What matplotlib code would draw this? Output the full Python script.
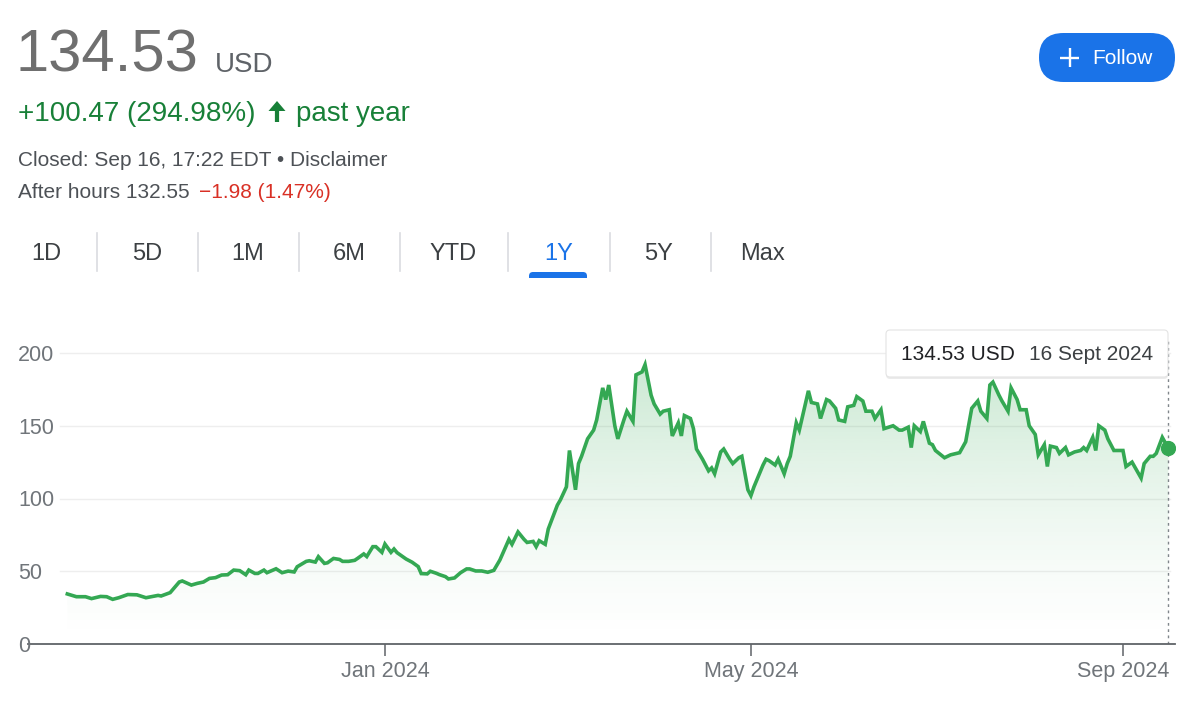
import numpy as np
import pandas as pd
import matplotlib
matplotlib.use("Agg")
import matplotlib.pyplot as plt
from matplotlib.patches import FancyBboxPatch, FancyArrow, Rectangle

plt.rcParams['font.family'] = ['Liberation Sans', 'DejaVu Sans']

# ---- data (closing price, USD) ----
dates = [
    "2023-09-18", "2023-09-21", "2023-09-24", "2023-09-26", "2023-09-29", "2023-10-01", "2023-10-03",
    "2023-10-05", "2023-10-08", "2023-10-11", "2023-10-14", "2023-10-18", "2023-10-19", "2023-10-22",
    "2023-10-25", "2023-10-26", "2023-10-29", "2023-10-31", "2023-11-02", "2023-11-04", "2023-11-06",
    "2023-11-08", "2023-11-10", "2023-11-12", "2023-11-14", "2023-11-16", "2023-11-17", "2023-11-19",
    "2023-11-20", "2023-11-22", "2023-11-23", "2023-11-26", "2023-11-28", "2023-11-30", "2023-12-02",
    "2023-12-03", "2023-12-06", "2023-12-07", "2023-12-09", "2023-12-10", "2023-12-12", "2023-12-13",
    "2023-12-15", "2023-12-17", "2023-12-18", "2023-12-20", "2023-12-22", "2023-12-23", "2023-12-25",
    "2023-12-26", "2023-12-28", "2023-12-29", "2023-12-31", "2024-01-01", "2024-01-03", "2024-01-04",
    "2024-01-05", "2024-01-08", "2024-01-10", "2024-01-12", "2024-01-13", "2024-01-15", "2024-01-16",
    "2024-01-18", "2024-01-19", "2024-01-21", "2024-01-22", "2024-01-24", "2024-01-26", "2024-01-28",
    "2024-01-29", "2024-01-31", "2024-02-02", "2024-02-04", "2024-02-06", "2024-02-08", "2024-02-11",
    "2024-02-12", "2024-02-14", "2024-02-16", "2024-02-17", "2024-02-19", "2024-02-20", "2024-02-21",
    "2024-02-23", "2024-02-24", "2024-02-26", "2024-02-27", "2024-02-28", "2024-03-01", "2024-03-02",
    "2024-03-04", "2024-03-05", "2024-03-06", "2024-03-08", "2024-03-10", "2024-03-11", "2024-03-13",
    "2024-03-14", "2024-03-15", "2024-03-17", "2024-03-18", "2024-03-20", "2024-03-21", "2024-03-23",
    "2024-03-24", "2024-03-26", "2024-03-27", "2024-03-29", "2024-03-30", "2024-04-01", "2024-04-02",
    "2024-04-04", "2024-04-05", "2024-04-07", "2024-04-08", "2024-04-09", "2024-04-11", "2024-04-12",
    "2024-04-13", "2024-04-15", "2024-04-17", "2024-04-18", "2024-04-19", "2024-04-21", "2024-04-22",
    "2024-04-24", "2024-04-25", "2024-04-27", "2024-04-28", "2024-04-30", "2024-05-01", "2024-05-02",
    "2024-05-05", "2024-05-06", "2024-05-07", "2024-05-09", "2024-05-10", "2024-05-12", "2024-05-13",
    "2024-05-14", "2024-05-16", "2024-05-17", "2024-05-20", "2024-05-21", "2024-05-23", "2024-05-24",
    "2024-05-26", "2024-05-27", "2024-05-29", "2024-05-30", "2024-06-01", "2024-06-02", "2024-06-04",
    "2024-06-05", "2024-06-07", "2024-06-08", "2024-06-10", "2024-06-11", "2024-06-13", "2024-06-14",
    "2024-06-17", "2024-06-19", "2024-06-20", "2024-06-22", "2024-06-23", "2024-06-24", "2024-06-26",
    "2024-06-27", "2024-06-29", "2024-06-30", "2024-07-01", "2024-07-04", "2024-07-06", "2024-07-08",
    "2024-07-09", "2024-07-11", "2024-07-13", "2024-07-15", "2024-07-16", "2024-07-18", "2024-07-19",
    "2024-07-20", "2024-07-22", "2024-07-23", "2024-07-25", "2024-07-26", "2024-07-28", "2024-07-29",
    "2024-07-31", "2024-08-01", "2024-08-03", "2024-08-04", "2024-08-06", "2024-08-07", "2024-08-08",
    "2024-08-10", "2024-08-11", "2024-08-13", "2024-08-14", "2024-08-16", "2024-08-18", "2024-08-19",
    "2024-08-20", "2024-08-22", "2024-08-23", "2024-08-24", "2024-08-26", "2024-08-27", "2024-08-29",
    "2024-09-01", "2024-09-02", "2024-09-04", "2024-09-07", "2024-09-08", "2024-09-10", "2024-09-11",
    "2024-09-12", "2024-09-14", "2024-09-16",
]
prices = [
    34.4, 32.5, 32.5, 31.2, 32.7, 32.5, 30.7,
    31.8, 34.0, 33.8, 31.8, 33.4, 33.0, 35.3,
    42.6, 43.3, 40.5, 41.7, 42.6, 45.1, 45.6,
    47.4, 47.6, 50.8, 50.4, 47.6, 50.8, 48.5,
    48.5, 50.8, 49.0, 51.7, 49.0, 50.1, 49.5,
    53.1, 56.8, 57.2, 56.3, 60.0, 55.4, 55.8,
    58.8, 58.1, 56.8, 56.8, 57.5, 58.9, 61.9,
    60.1, 66.9, 66.9, 63.0, 68.7, 63.0, 65.3,
    62.8, 58.4, 56.2, 53.2, 48.4, 48.2, 50.0,
    48.6, 47.7, 46.3, 44.7, 45.4, 49.0, 51.6,
    51.6, 50.2, 50.2, 49.3, 50.6, 57.7, 71.9,
    68.5, 77.0, 71.9, 69.8, 70.5, 66.9, 71.0,
    68.5, 79.0, 89.8, 95.4, 99.0, 108.0, 133.0,
    106.0, 124.0, 129.0, 141.0, 147.0, 154.0, 176.0,
    168.0, 178.0, 150.0, 141.0, 154.0, 160.0, 153.0,
    185.0, 187.0, 192.0, 171.0, 165.0, 158.0, 160.0,
    161.0, 143.0, 152.0, 143.0, 157.0, 155.0, 148.0,
    134.0, 127.0, 119.0, 121.0, 117.0, 132.0, 134.0,
    127.0, 124.0, 128.0, 129.0, 106.0, 102.0, 108.0,
    123.0, 127.0, 126.0, 123.0, 127.0, 117.0, 124.0,
    129.0, 152.0, 147.0, 174.0, 166.0, 165.0, 155.0,
    168.0, 167.0, 162.0, 154.0, 153.0, 163.0, 164.0,
    170.0, 167.0, 160.0, 160.0, 155.0, 161.0, 148.0,
    150.0, 147.0, 147.0, 149.0, 135.0, 150.0, 146.0,
    153.0, 138.0, 137.0, 133.0, 128.0, 130.0, 131.0,
    131.5, 139.0, 162.0, 167.0, 160.0, 155.0, 178.0,
    180.0, 171.0, 167.0, 160.0, 176.0, 168.0, 161.0,
    161.0, 150.0, 144.0, 130.0, 137.0, 122.0, 136.0,
    135.0, 131.0, 135.0, 130.0, 132.0, 133.0, 135.0,
    133.0, 142.0, 133.0, 150.0, 147.0, 141.0, 133.0,
    133.0, 122.0, 125.0, 114.0, 124.0, 129.0, 129.0,
    131.0, 142.0, 134.53,
]
y_ticks = [0, 50, 100, 150, 200]
x_tick_dates = ["2024-01-01", "2024-05-01", "2024-09-01"]
x_tick_labels = ["Jan 2024", "May 2024", "Sep 2024"]
tabs = ["1D", "5D", "1M", "6M", "YTD", "1Y", "5Y", "Max"]
selected_tab = "1Y"

dates = pd.to_datetime(dates)
prices = np.array(prices)

W, H = 1200, 703
fig = plt.figure(figsize=(W / 100, H / 100), dpi=100)
fig.patch.set_facecolor("white")

GREEN = "#34a853"
GRAY = "#70757a"

# ---- chart axes (pixel box 28..1175 x 338..644) ----
ax = fig.add_axes([28 / W, (H - 644) / H, 1147 / W, (644 - 338) / H])
ax.set_facecolor("none")
jan1 = pd.Timestamp("2024-01-01")
xlo = jan1 + pd.Timedelta(days=-118.0)
xhi = jan1 + pd.Timedelta(days=261.2)
ymax = (644 - 338) / 1.455

for v in y_ticks[1:]:
    ax.axhline(v, xmin=32 / 1147, xmax=1142 / 1147, color="#eeeeee", lw=1, zorder=0)

for s in ["top", "right", "left"]:
    ax.spines[s].set_visible(False)
ax.spines["bottom"].set_color("#5f6368")
ax.spines["bottom"].set_linewidth(1.3)
ax.set_yticks([])
ax.set_xticks(pd.to_datetime(x_tick_dates))
ax.set_xticklabels(x_tick_labels)
ax.tick_params(axis="x", length=8.5, width=1.1, color="#5f6368", pad=4,
               labelsize=15.5, labelcolor=GRAY)

for v in y_ticks:
    ax.annotate(str(v), xy=(0, v), xycoords=ax.get_yaxis_transform(),
                xytext=(-10, -8), textcoords="offset pixels",
                ha="left", va="baseline", fontsize=15.5, color=GRAY)

# gradient fill under the line
xnum = matplotlib.dates.date2num(dates)
grad = np.zeros((256, 1, 4))
grad[:, 0, 0] = 52 / 255
grad[:, 0, 1] = 168 / 255
grad[:, 0, 2] = 83 / 255
grad[:, 0, 3] = 0.26 * np.linspace(0.0, 1.0, 256) ** 1.4
img = ax.imshow(grad, aspect="auto", origin="lower",
                extent=[xnum[0], xnum[-1], 0, 195], zorder=1)
poly = ax.fill_between(dates, prices, 0, facecolor="none", edgecolor="none")
clip = poly.get_paths()[0]
img.set_clip_path(clip, transform=ax.transData)

ax.plot(dates, prices, color=GREEN, lw=2.6, solid_joinstyle="miter", zorder=3)
ax.plot(dates[-1], prices[-1], "o", color=GREEN, ms=10, zorder=4)
ax.axvline(dates[-1], color="#80868b", lw=1, ls=(0, (2, 2.5)), zorder=2)
ax.set_xlim(xlo, xhi)
ax.set_ylim(0, ymax)

# ---- overlay in pixel coordinates for header, tabs, tooltip ----
ov = fig.add_axes([0, 0, 1, 1], zorder=5)
ov.set_xlim(0, W)
ov.set_ylim(H, 0)
ov.axis("off")
ov.patch.set_alpha(0)

ov.text(16, 72, "134.53", fontsize=43, color="#6f6f6f", va="baseline")
ov.text(215, 72, "USD", fontsize=20, color="#5f6368", va="baseline")

ov.text(18, 121, "+100.47 (294.98%)", fontsize=20, color="#188038", va="baseline")
ov.add_patch(FancyArrow(277, 122, 0, -21, width=4.2, head_width=17, head_length=10,
                        length_includes_head=True, color="#188038", lw=0))
ov.text(296, 121, "past year", fontsize=20, color="#188038", va="baseline")

ov.text(18, 166, "Closed: Sep 16, 17:22 EDT \u2022 Disclaimer", fontsize=15,
        color="#4d5156", va="baseline")
ov.text(18, 198, "After hours 132.55", fontsize=15, color="#4d5156", va="baseline")
ov.text(199, 198, "\u22121.98 (1.47%)", fontsize=15, color="#d93025", va="baseline")

# Follow button
ov.add_patch(FancyBboxPatch((1039, 33), 136, 49,
                            boxstyle="round,pad=0,rounding_size=24.5",
                            fc="#1a73e8", ec="none"))
ov.plot([1060, 1079], [57.5, 57.5], color="white", lw=1.7, solid_capstyle="butt")
ov.plot([1069.5, 1069.5], [48, 67], color="white", lw=1.7, solid_capstyle="butt")
ov.text(1092, 64, "Follow", fontsize=15, color="white", va="baseline")

# tabs
tab_centers = [46, 147, 248, 349, 453, 559, 659, 763]
dividers = [97, 198, 299, 400, 508, 610, 711]
for name, cx in zip(tabs, tab_centers):
    col = "#1a73e8" if name == selected_tab else "#3c4043"
    ov.text(cx, 260, name, fontsize=17, color=col, ha="center", va="baseline")
for dx in dividers:
    ov.plot([dx, dx], [233, 271], color="#dadce0", lw=1.2)
ov.add_patch(FancyBboxPatch((529, 272), 58, 12,
                            boxstyle="round,pad=0,rounding_size=4",
                            fc="#1a73e8", ec="none"))
ov.add_patch(Rectangle((527, 278), 62, 10, fc="white", ec="none"))

# tooltip
ov.add_patch(FancyBboxPatch((886, 331), 282, 48, boxstyle="round,pad=0,rounding_size=4",
                            fc="#000000", ec="none", alpha=0.08))
ov.add_patch(FancyBboxPatch((886, 330), 282, 47, boxstyle="round,pad=0,rounding_size=4",
                            fc="white", ec="#e4e4e4", lw=0.8))
ov.text(901, 360, "134.53 USD", fontsize=15, color="#202124", va="baseline")
ov.text(1029, 360, "16 Sept 2024", fontsize=15, color="#3c4043", va="baseline")

fig.savefig("out.png", dpi=100, facecolor="white")
